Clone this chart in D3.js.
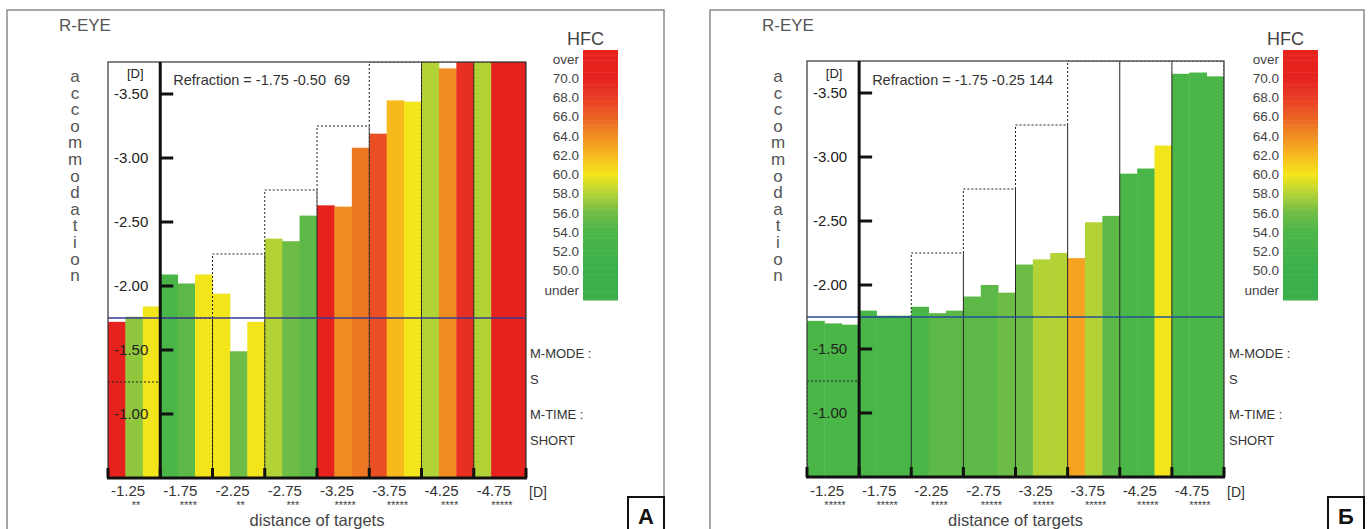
<!DOCTYPE html>
<html lang="en">
<head>
  <meta charset="UTF-8">
  <title>Accommodation response - R-EYE</title>
  <script src="https://d3js.org/d3.v7.min.js"></script>
  <style>
    body { margin: 0; background: #fff; }
    svg { display: block; font-family: "Liberation Sans", Arial, sans-serif; }
  </style>
</head>
<body>
  <svg width="1370" height="529"></svg>
  <script>
    // target distances (D) and the demand they stand for
    const targets = ["-1.25", "-1.75", "-2.25", "-2.75", "-3.25", "-3.75", "-4.25", "-4.75"];
    const demand = [1.25, 1.75, 2.25, 2.75, 3.25, 3.75, 4.25, 4.75];
    const yTicks = [1.0, 1.5, 2.0, 2.5, 3.0, 3.5];
    const legendLabels = ["over", "70.0", "68.0", "66.0", "64.0", "62.0", "60.0", "58.0", "56.0", "54.0", "52.0", "50.0", "under"];
    const legendValues = [72, 70, 68, 66, 64, 62, 60, 58, 56, 54, 52, 50, 48];
    const modeLines = ["M-MODE :", "S", "M-TIME :", "SHORT"];

    // panel A: accommodation (D, shown negative) and HFC for 3 measures per target
    const refractionA = "Refraction = -1.75 -0.50  69";
    const starsA = ["**", "****", "**", "***", "*****", "*****", "****", "*****"];
    const accA = [[1.72, 1.76, 1.84], [2.09, 2.02, 2.09], [1.94, 1.49, 1.72], [2.37, 2.35, 2.55],
                  [2.63, 2.62, 3.08], [3.19, 3.45, 3.44], [3.75, 3.70, 3.75], [3.75, 3.75, 3.75]];
    const hfcA = [[71, 57, 60], [54, 55, 60], [60, 56, 60], [58, 56, 55],
                  [70, 64, 65], [67, 62, 60], [58, 64, 69], [58, 70, 71]];

    // panel B
    const refractionB = "Refraction = -1.75 -0.25 144";
    const starsB = ["*****", "*****", "****", "*****", "*****", "*****", "*****", "*****"];
    const accB = [[1.72, 1.70, 1.69], [1.80, 1.76, 1.76], [1.83, 1.78, 1.80], [1.91, 2.00, 1.94],
                  [2.16, 2.20, 2.25], [2.21, 2.49, 2.54], [2.87, 2.91, 3.09], [3.65, 3.66, 3.63]];
    const hfcB = [[54, 54, 54], [54, 54, 54], [54, 55, 55], [55, 55, 56],
                  [56, 58, 58], [63, 58, 55], [54, 54, 60], [54, 54, 54]];

    const color = d3.scaleLinear()
      .domain([50, 54, 56, 58, 60, 62, 64, 66, 68, 70])
      .range(["#3aaf4a", "#4bb648", "#6dbc45", "#b2d236", "#f3e51b", "#f7ba1d", "#f08d22", "#eb6123", "#e83c24", "#e6221f"])
      .clamp(true);

    const svg = d3.select("svg");

    const panels = [
      { id: "A", letter: "A", frameL: 7, frameR: 664, plotL: 108, plotR: 526, plotT: 62, plotB: 478,
        legendX: 583, infoX: 530, lineColor: "#3c3a94", refraction: refractionA, stars: starsA, acc: accA, hfc: hfcA },
      { id: "B", letter: "Б", frameL: 710, frameR: 1364, plotL: 807, plotR: 1224, plotT: 61, plotB: 477,
        legendX: 1283, infoX: 1229, lineColor: "#25509a", refraction: refractionB, stars: starsB, acc: accB, hfc: hfcB }
    ];

    panels.forEach(drawPanel);

    function drawPanel(p) {
      const g = svg.append("g");
      const x = d3.scaleBand().domain(targets).range([p.plotL, p.plotR]);
      const sub = d3.scaleBand().domain([0, 1, 2]).range([0, x.bandwidth()]);
      const y = d3.scaleLinear().domain([0.5, 3.75]).range([p.plotB, p.plotT]).clamp(true);
      const axisX = x(targets[1]);

      // outer frame
      g.append("rect")
        .attr("x", p.frameL).attr("y", 10)
        .attr("width", p.frameR - p.frameL).attr("height", 530)
        .attr("fill", "none").attr("stroke", "#8a8a8a").attr("stroke-width", 1.5);

      g.append("text")
        .attr("x", p.frameL + 52).attr("y", 31)
        .attr("font-size", 17).attr("fill", "#555")
        .text("R-EYE");

      // vertical "accommodation"
      g.append("g").selectAll("text")
        .data("accommodation".split(""))
        .join("text")
        .attr("x", p.frameL + 68)
        .attr("y", (d, i) => 82 + i * 16.6)
        .attr("text-anchor", "middle")
        .attr("font-size", 17).attr("fill", "#555")
        .text(d => d);

      svg.append("clipPath").attr("id", "clip" + p.id)
        .append("rect")
        .attr("x", p.plotL).attr("y", p.plotT)
        .attr("width", p.plotR - p.plotL).attr("height", p.plotB - p.plotT);

      const plot = g.append("g").attr("clip-path", `url(#clip${p.id})`);

      const cells = targets.flatMap((t, i) => p.acc[i].map((v, j) => ({ t, j, v, h: p.hfc[i][j] })));

      plot.selectAll("rect.bar")
        .data(cells)
        .join("rect")
        .attr("class", "bar")
        .attr("x", d => x(d.t) + sub(d.j))
        .attr("width", sub.bandwidth() + 0.4)
        .attr("y", d => y(d.v))
        .attr("height", d => p.plotB - y(d.v))
        .attr("fill", d => color(d.h));

      // dashed demand steps
      plot.selectAll("path.demand")
        .data(targets)
        .join("path")
        .attr("class", "demand")
        .attr("d", (t, i) => `M${x(t)},${p.plotB}V${y(demand[i])}H${x(t) + x.bandwidth()}V${p.plotB}`)
        .attr("fill", "none")
        .attr("stroke", "#222")
        .attr("stroke-width", 1)
        .attr("stroke-dasharray", "2,2");

      // refraction line
      g.append("line")
        .attr("x1", p.plotL).attr("x2", p.plotR)
        .attr("y1", y(1.75)).attr("y2", y(1.75))
        .attr("stroke", p.lineColor).attr("stroke-width", 1.5);

      // plot border
      g.append("rect")
        .attr("x", p.plotL).attr("y", p.plotT)
        .attr("width", p.plotR - p.plotL).attr("height", p.plotB - p.plotT)
        .attr("fill", "none").attr("stroke", "#333").attr("stroke-width", 1.2);

      // y axis
      g.append("line")
        .attr("x1", axisX).attr("x2", axisX)
        .attr("y1", p.plotT).attr("y2", p.plotB)
        .attr("stroke", "#111").attr("stroke-width", 3);

      const yAxis = g.append("g");
      yAxis.selectAll("line")
        .data(yTicks)
        .join("line")
        .attr("x1", axisX).attr("x2", axisX + 13)
        .attr("y1", d => y(d)).attr("y2", d => y(d))
        .attr("stroke", "#111").attr("stroke-width", 3);
      yAxis.selectAll("text")
        .data(yTicks)
        .join("text")
        .attr("x", axisX - 12)
        .attr("y", d => y(d))
        .attr("dy", "0.36em")
        .attr("text-anchor", "end")
        .attr("font-size", 15).attr("fill", "#222")
        .text(d => "-" + d.toFixed(2));

      g.append("text")
        .attr("x", axisX - 25).attr("y", 78)
        .attr("text-anchor", "middle")
        .attr("font-size", 13).attr("fill", "#222")
        .text("[D]");

      g.append("text")
        .attr("x", axisX + 13).attr("y", 85)
        .attr("font-size", 14.5).attr("fill", "#333")
        .style("white-space", "pre")
        .text(p.refraction);

      // x axis
      g.append("line")
        .attr("x1", p.plotL - 1).attr("x2", p.plotR + 1)
        .attr("y1", p.plotB).attr("y2", p.plotB)
        .attr("stroke", "#111").attr("stroke-width", 3);

      g.append("g").selectAll("line")
        .data(targets.map(t => x(t)).concat([p.plotR]))
        .join("line")
        .attr("x1", d => d).attr("x2", d => d)
        .attr("y1", p.plotB).attr("y2", p.plotB - 10)
        .attr("stroke", "#111").attr("stroke-width", 3);

      const xLabels = g.append("g");
      xLabels.selectAll("text.tick")
        .data(targets)
        .join("text")
        .attr("class", "tick")
        .attr("x", t => x(t) + x.bandwidth() / 2 - 6)
        .attr("y", 496)
        .attr("text-anchor", "middle")
        .attr("font-size", 15).attr("fill", "#333")
        .text(t => t);
      xLabels.selectAll("text.stars")
        .data(p.stars)
        .join("text")
        .attr("class", "stars")
        .attr("x", (s, i) => x(targets[i]) + x.bandwidth() / 2 + 2)
        .attr("y", 508.5)
        .attr("text-anchor", "middle")
        .attr("font-size", 11).attr("fill", "#444")
        .text(s => s);

      g.append("text")
        .attr("x", p.plotR + 3).attr("y", 497)
        .attr("font-size", 14).attr("fill", "#333")
        .text("[D]");

      g.append("text")
        .attr("x", (p.plotL + p.plotR) / 2).attr("y", 525.5)
        .attr("text-anchor", "middle")
        .attr("font-size", 16.5).attr("fill", "#444")
        .text("distance of targets");

      // HFC legend
      const ly = d3.scaleLinear().domain([72, 48]).range([59, 290]);
      const steps = d3.range(46.75, 73.25, 0.25);
      const legend = g.append("g");
      legend.selectAll("rect")
        .data(steps)
        .join("rect")
        .attr("x", p.legendX)
        .attr("width", 35)
        .attr("y", v => Math.max(50, ly(v + 0.125)))
        .attr("height", v => Math.min(300, ly(v - 0.125)) - Math.max(50, ly(v + 0.125)) + 0.5)
        .attr("fill", v => color(v));
      legend.selectAll("text.lab")
        .data(legendLabels)
        .join("text")
        .attr("class", "lab")
        .attr("x", p.legendX - 4)
        .attr("y", (d, i) => ly(legendValues[i]))
        .attr("dy", "0.35em")
        .attr("text-anchor", "end")
        .attr("font-size", 13.5).attr("fill", "#444")
        .text(d => d);
      legend.append("text")
        .attr("x", p.legendX + 21).attr("y", 45)
        .attr("text-anchor", "end")
        .attr("font-size", 18).attr("fill", "#444")
        .text("HFC");

      // measurement mode
      g.append("g").selectAll("text")
        .data(modeLines)
        .join("text")
        .attr("x", p.infoX)
        .attr("y", (d, i) => [358, 384, 419, 445][i])
        .attr("font-size", 13).attr("fill", "#333")
        .text(d => d);

      // panel letter box
      g.append("rect")
        .attr("x", p.frameR - 36).attr("y", 497)
        .attr("width", 36).attr("height", 40)
        .attr("fill", "#fff").attr("stroke", "#111").attr("stroke-width", 2);
      g.append("text")
        .attr("x", p.frameR - 18).attr("y", 524)
        .attr("text-anchor", "middle")
        .attr("font-size", 22).attr("font-weight", "bold").attr("fill", "#111")
        .text(p.letter);
    }
  </script>
</body>
</html>
